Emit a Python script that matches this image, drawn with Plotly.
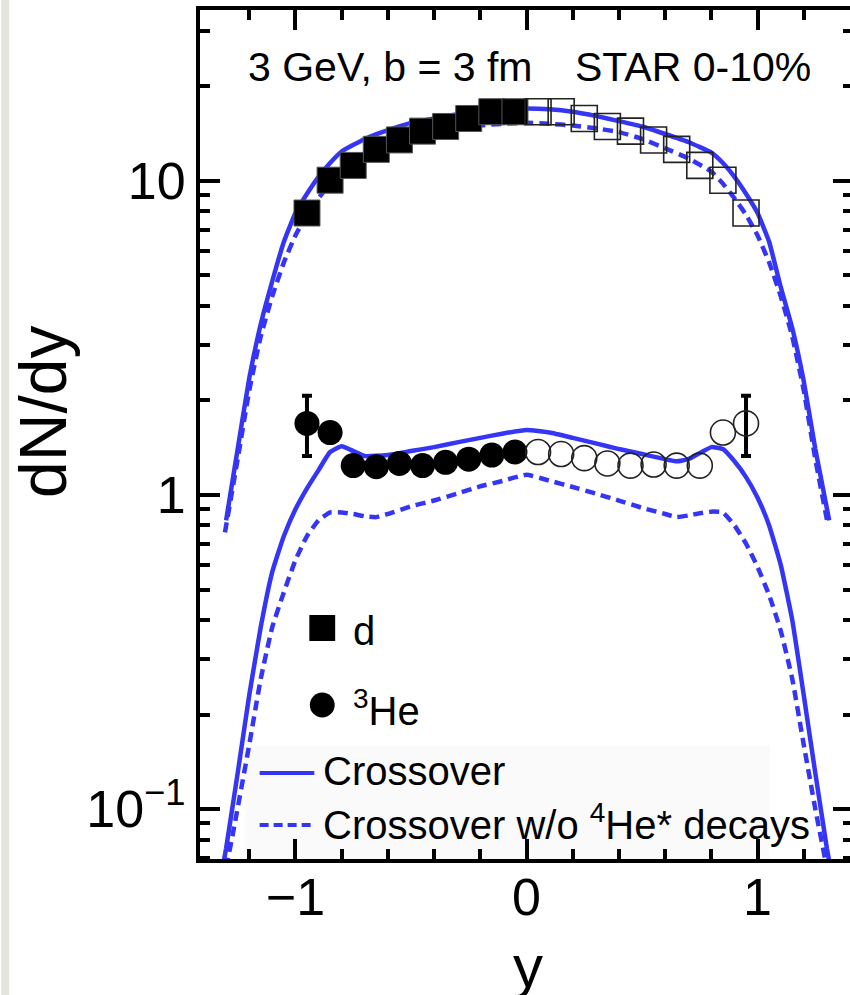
import plotly.graph_objects as go

# ---------------- data ----------------
# deuteron dN/dy, measured (filled) and reflected (open)
d_rap = [-0.95, -0.85, -0.75, -0.65, -0.55, -0.45, -0.35, -0.25, -0.15, -0.05]
d_dndy = [7.9, 10.05, 11.2, 12.6, 13.5, 14.4, 14.9, 15.8, 16.6, 16.6]
d_rap_refl = [0.95, 0.85, 0.75, 0.65, 0.55, 0.45, 0.35, 0.25, 0.15, 0.05]
d_dndy_refl = [7.9, 10.05, 11.2, 12.6, 13.5, 14.4, 14.9, 15.8, 16.6, 16.6]

# 3He dN/dy, measured (filled) and reflected (open); errors only on outermost point
he3_rap = [-0.95, -0.85, -0.75, -0.65, -0.55, -0.45, -0.35, -0.25, -0.15, -0.05]
he3_dndy = [1.69, 1.58, 1.24, 1.23, 1.26, 1.24, 1.27, 1.30, 1.34, 1.37]
he3_err_plus = [0.38]
he3_err_minus = [0.36]
he3_rap_refl = [0.95, 0.85, 0.75, 0.65, 0.55, 0.45, 0.35, 0.25, 0.15, 0.05]
he3_dndy_refl = [1.69, 1.58, 1.24, 1.24, 1.25, 1.24, 1.26, 1.31, 1.35, 1.37]
he3_err_plus_refl = [0.38]
he3_err_minus_refl = [0.36]

# model: deuteron, Crossover
d_model_rap = [-1.30, -1.25, -1.20, -1.15, -1.10, -1.05, -1.00, -0.95, -0.90, -0.85, -0.80,
               -0.70, -0.60, -0.50, -0.40, -0.30, -0.20, -0.10, 0.00, 0.10, 0.20, 0.30,
               0.40, 0.50, 0.60, 0.70, 0.80, 0.85, 0.90, 0.95, 1.00, 1.05, 1.10, 1.15,
               1.20, 1.25, 1.31]
d_crossover = [0.83, 1.40, 2.35, 3.5, 4.8, 6.4, 7.9, 9.1, 10.3, 11.4, 12.4,
               13.6, 14.5, 15.3, 15.8, 16.3, 16.6, 16.9, 17.0, 16.9, 16.6, 16.1,
               15.5, 14.9, 14.1, 13.3, 12.3, 11.4, 10.3, 9.1, 7.9, 6.4, 4.6, 3.4,
               2.3, 1.40, 0.83]
# model: deuteron, Crossover w/o 4He* decays
d_model_rap2 = [-1.305, -1.25, -1.20, -1.15, -1.10, -1.05, -1.00, -0.95, -0.90, -0.85, -0.80,
                -0.70, -0.60, -0.50, -0.40, -0.30, -0.20, -0.10, 0.00, 0.10, 0.20, 0.30,
                0.40, 0.50, 0.60, 0.70, 0.80, 0.85, 0.90, 0.95, 1.00, 1.05, 1.10, 1.15,
                1.20, 1.25, 1.305]
d_crossover_nodecay = [0.76, 1.30, 2.15, 3.2, 4.3, 5.5, 6.7, 7.8, 8.8, 9.8, 10.7,
                       11.8, 12.7, 13.6, 14.3, 14.7, 15.0, 15.2, 15.3, 15.2, 15.0, 14.7,
                       14.3, 13.6, 12.7, 11.8, 10.7, 9.8, 8.8, 7.8, 6.7, 5.5, 4.3, 3.2,
                       2.15, 1.30, 0.80]

# model: 3He, Crossover
he3_model_rap = [-1.32, -1.30, -1.25, -1.20, -1.15, -1.10, -1.05, -1.00, -0.95, -0.90, -0.85,
                 -0.80, -0.75, -0.70, -0.60, -0.50, -0.40, -0.30, -0.20, -0.10, 0.00, 0.10,
                 0.20, 0.30, 0.40, 0.50, 0.60, 0.65, 0.70, 0.75, 0.80, 0.85, 0.90, 0.95,
                 1.00, 1.05, 1.10, 1.15, 1.20, 1.25, 1.30, 1.32]
he3_crossover = [0.062, 0.075, 0.13, 0.23, 0.38, 0.57, 0.74, 0.90, 1.05, 1.20, 1.37,
                 1.43, 1.38, 1.33, 1.34, 1.38, 1.42, 1.47, 1.52, 1.57, 1.61, 1.58,
                 1.52, 1.46, 1.40, 1.35, 1.30, 1.28, 1.30, 1.36, 1.42, 1.40, 1.28, 1.14,
                 0.98, 0.80, 0.60, 0.40, 0.23, 0.13, 0.075, 0.062]
# model: 3He, Crossover w/o 4He* decays
he3_model_rap2 = [-1.30, -1.27, -1.20, -1.15, -1.10, -1.05, -1.00, -0.95, -0.90, -0.85, -0.80,
                  -0.75, -0.70, -0.65, -0.60, -0.50, -0.40, -0.30, -0.20, -0.10, 0.00, 0.10,
                  0.20, 0.30, 0.40, 0.50, 0.60, 0.65, 0.70, 0.75, 0.80, 0.85, 0.90, 0.95,
                  1.00, 1.05, 1.10, 1.15, 1.20, 1.25, 1.30]
he3_crossover_nodecay = [0.065, 0.084, 0.16, 0.26, 0.38, 0.49, 0.62, 0.74, 0.83, 0.88, 0.88,
                         0.87, 0.855, 0.85, 0.87, 0.92, 0.96, 1.01, 1.065, 1.11, 1.16, 1.11,
                         1.06, 1.01, 0.96, 0.91, 0.87, 0.85, 0.86, 0.875, 0.885, 0.88, 0.80, 0.70,
                         0.59, 0.48, 0.37, 0.26, 0.16, 0.10, 0.065]

x_tick_vals = [-1, 0, 1]
x_tick_text = ["\u22121", "0", "1"]
x_minor_vals = [-1.2, -0.8, -0.6, -0.4, -0.2, 0.2, 0.4, 0.6, 0.8, 1.2]
y_tick_vals = [0.1, 1, 10]
y_tick_text = ["10<sup>\u22121</sup>", "1", "10"]
y_minor_vals = [0.07, 0.08, 0.09, 0.2, 0.3, 0.4, 0.5, 0.6, 0.7, 0.8, 0.9,
                2, 3, 4, 5, 6, 7, 8, 9, 20, 30]

# ---------------- styling ----------------
BLUE = "#3535F5"
FONT = "Liberation Sans, Arial, Helvetica, sans-serif"
W, H = 857, 995           # frame runs slightly past the 850 px window, as in the original
L, R, T, B = 200, 857, 10, 859  # plot area in pixels


def px(x):
    return (x - L) / (R - L)


def py(y):
    return (B - y) / (B - T)


LINE = dict(shape="spline", smoothing=0.4)

fig = go.Figure()

fig.add_trace(go.Scatter(x=d_model_rap, y=d_crossover, mode="lines",
                         line=dict(color=BLUE, width=4.5, **LINE), name="Crossover"))
fig.add_trace(go.Scatter(x=d_model_rap2, y=d_crossover_nodecay, mode="lines",
                         line=dict(color=BLUE, width=4.5, dash="10px,6px", **LINE),
                         name="Crossover w/o 4He* decays"))
fig.add_trace(go.Scatter(x=he3_model_rap, y=he3_crossover, mode="lines",
                         line=dict(color=BLUE, width=4.5, **LINE), name="Crossover"))
fig.add_trace(go.Scatter(x=he3_model_rap2, y=he3_crossover_nodecay, mode="lines",
                         line=dict(color=BLUE, width=4.5, dash="10px,6px", **LINE),
                         name="Crossover w/o 4He* decays"))

fig.add_trace(go.Scatter(x=d_rap, y=d_dndy, mode="markers", name="d",
                         marker=dict(symbol="square", size=26, color="black",
                                     line=dict(color="#555", width=1))))
fig.add_trace(go.Scatter(x=d_rap_refl, y=d_dndy_refl, mode="markers", name="d refl",
                         marker=dict(symbol="square-open", size=26, color="#222",
                                     line=dict(color="#222", width=1.6))))
fig.add_trace(go.Scatter(x=he3_rap, y=he3_dndy, mode="markers", name="3He",
                         error_y=dict(type="data", symmetric=False, array=he3_err_plus,
                                      arrayminus=he3_err_minus, color="black",
                                      thickness=4, width=5),
                         marker=dict(symbol="circle", size=25, color="black")))
fig.add_trace(go.Scatter(x=he3_rap_refl, y=he3_dndy_refl, mode="markers", name="3He refl",
                         error_y=dict(type="data", symmetric=False, array=he3_err_plus_refl,
                                      arrayminus=he3_err_minus_refl, color="black",
                                      thickness=4, width=5),
                         marker=dict(symbol="circle-open", size=25, color="#222",
                                     line=dict(color="#222", width=1.6))))

shapes = []
# gray strip at the far left of the page
shapes.append(dict(type="rect", xref="paper", yref="paper", x0=px(0), x1=px(8),
                   y0=py(H), y1=py(0), fillcolor="#E3E5DA", line=dict(width=0), layer="below"))
# faint legend box
shapes.append(dict(type="rect", xref="paper", yref="paper", x0=px(245), x1=px(773),
                   y0=py(B), y1=py(746), fillcolor="#FAFAFA", line=dict(width=0), layer="below"))
# legend keys
shapes.append(dict(type="rect", xref="paper", yref="paper", x0=px(310), x1=px(336),
                   y0=py(641), y1=py(615), fillcolor="black", line=dict(width=0)))
shapes.append(dict(type="circle", xref="paper", yref="paper", x0=px(310.5), x1=px(335.5),
                   y0=py(717.5), y1=py(692.5), fillcolor="black", line=dict(width=0)))
shapes.append(dict(type="line", xref="paper", yref="paper", x0=px(260), x1=px(315),
                   y0=py(773), y1=py(773), line=dict(color=BLUE, width=4)))
shapes.append(dict(type="line", xref="paper", yref="paper", x0=px(260), x1=px(315),
                   y0=py(825), y1=py(825), line=dict(color=BLUE, width=4, dash="9px,5px")))

annotations = []


def add_text(text, x, y, size, xanchor="left", angle=0):
    annotations.append(dict(text=text, x=px(x), y=py(y), xref="paper", yref="paper",
                            xanchor=xanchor, yanchor="middle", showarrow=False,
                            textangle=angle, font=dict(size=size, family=FONT, color="black")))


add_text("3 GeV, b = 3 fm", 246, 67, 41)
add_text("STAR 0-10%", 575, 67, 41)
add_text("d", 352, 631, 40)
add_text("<sup>3</sup>He", 352, 708, 40)
add_text("Crossover", 322, 771, 40)
add_text("Crossover w/o <sup>4</sup>He* decays", 322, 822, 40)
add_text("dN/dy", 42, 412, 66, xanchor="center", angle=-90)
add_text("y", 530, 966, 60, xanchor="center")

fig.update_layout(
    width=W, height=H,
    margin=dict(l=L, r=W - R, t=T, b=H - B, pad=0),
    paper_bgcolor="white", plot_bgcolor="white",
    showlegend=False,
    font=dict(family=FONT, color="black"),
    shapes=shapes, annotations=annotations,
)

fig.update_xaxes(
    range=[-1.413, 1.413], showgrid=False, zeroline=False,
    showline=True, linewidth=4, linecolor="black", mirror="ticks",
    ticks="inside", ticklen=20, tickwidth=4, tickcolor="black",
    tickmode="array", tickvals=x_tick_vals, ticktext=x_tick_text,
    tickfont=dict(size=52, family=FONT, color="black"),
    ticklabelstandoff=-10,
    minor=dict(ticks="inside", ticklen=10, tickwidth=4, tickcolor="black",
               tickmode="array", tickvals=x_minor_vals, showgrid=False),
)
fig.update_yaxes(
    type="log", range=[-1.159, 1.544], showgrid=False, zeroline=False,
    showline=True, linewidth=4, linecolor="black", mirror="ticks",
    ticks="inside", ticklen=20, tickwidth=4, tickcolor="black",
    tickmode="array", tickvals=y_tick_vals, ticktext=y_tick_text,
    tickfont=dict(size=52, family=FONT, color="black"),
    minor=dict(ticks="inside", ticklen=10, tickwidth=4, tickcolor="black",
               tickmode="array", tickvals=y_minor_vals, showgrid=False),
)

fig.write_html(
    "out.html",
    config={"displayModeBar": False},
    post_script="document.body.style.margin='0px';"
                "document.body.style.overflow='hidden';"
                "document.documentElement.style.overflow='hidden';",
)
